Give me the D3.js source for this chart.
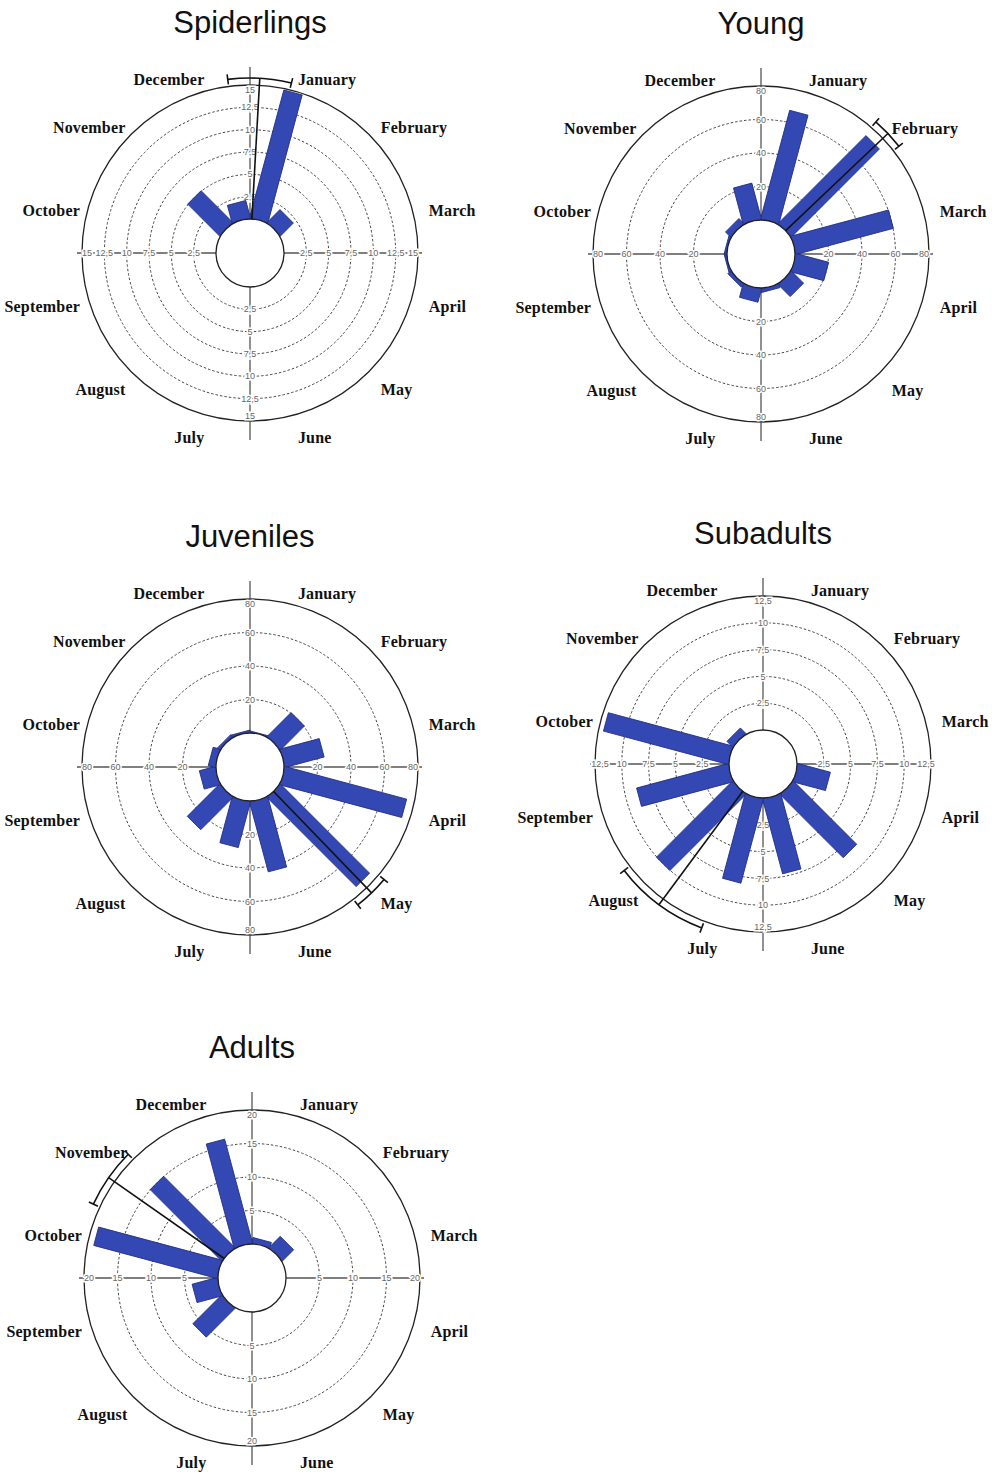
<!DOCTYPE html>
<html>
<head>
<meta charset="utf-8">
<script src="https://cdn.jsdelivr.net/npm/d3@7"></script>
<style>
  body { margin: 0; background: #fff; }
  svg { display: block; }
</style>
</head>
<body>
<svg id="chart" width="992" height="1481"></svg>
<script>
const months = [
  "January","February","March","April","May","June",
  "July","August","September","October","November","December"
];

// values per month, January..December
const spiderlings = [14.8, 2, 0, 0, 0, 0, 0, 0, 0, 0, 5, 2];
const young = [67, 74, 60, 20, 10, 2, 8, 2, 1, 1, 4, 22];
const juveniles = [0.5, 20, 24, 75, 75, 43, 28, 27, 9.5, 4, 1.5, 1];
const subadults = [0, 0, 0, 3.1, 8.3, 7.2, 8.1, 10, 8.8, 12, 0.7, 0];
const adults = [0.8, 2.3, 0, 0, 0, 0, 0, 6, 3.8, 19, 15, 16];

// radial tick labels for each panel
const spiderTicks = [2.5, 5, 7.5, 10, 12.5, 15];
const youngTicks = [20, 40, 60, 80];
const juvTicks = [20, 40, 60, 80];
const subTicks = [2.5, 5, 7.5, 10, 12.5];
const adultTicks = [5, 10, 15, 20];

// mean direction (degrees, clockwise from top) and its confidence half-width
const meanAngles = [3.2, 46.5, 136, 216.5, 305];
const meanCI = [10.5, 5.5, 6, 16, 10];

const titles = ["Spiderlings", "Young", "Juveniles", "Subadults", "Adults"];

const svg = d3.select("#chart");
svg.append("rect").attr("width", 992).attr("height", 1481).attr("fill", "#fff");

const innerR = 34;
const outerR = 168;
const fmt = v => String(v).replace(".", ",");
const rad = a => a * Math.PI / 180;

function drawRose(cx, cy, title, values, ticks, mean, ci){
  const maxV = ticks[ticks.length - 1];
  const r = d3.scaleLinear().domain([0, maxV]).range([innerR, outerR]);
  const angle = d3.scaleBand().domain(months).range([0, 360]);
  const mid = m => angle(m) + angle.bandwidth() / 2;

  const g = svg.append("g").attr("transform", `translate(${cx},${cy})`);

  // title
  g.append("text")
    .attr("x", 0)
    .attr("y", -220)
    .attr("text-anchor", "middle")
    .style("font-family", "Liberation Sans, Arial, sans-serif")
    .style("font-size", "31px")
    .style("fill", "#111")
    .text(title);

  // outer circle
  g.append("circle")
    .attr("r", outerR)
    .attr("fill", "none")
    .attr("stroke", "#222")
    .attr("stroke-width", 1.3);

  // dashed rings
  g.selectAll(".ring")
    .data(ticks.slice(0, -1))
    .enter()
    .append("circle")
    .attr("r", d => r(d))
    .attr("fill", "none")
    .attr("stroke", "#444")
    .attr("stroke-width", 1)
    .attr("stroke-dasharray", "2.5,2");

  // axes
  const axisStyle = sel => sel.attr("stroke", "#555").attr("stroke-width", 1.3);
  g.append("line").attr("x1", -outerR - 5).attr("x2", -innerR).call(axisStyle);
  g.append("line").attr("x1", innerR).attr("x2", outerR + 4).call(axisStyle);
  g.append("line").attr("y1", -186).attr("y2", -innerR).call(axisStyle);
  g.append("line").attr("y1", innerR).attr("y2", 187).call(axisStyle);

  // tick labels on four half-axes
  const dirs = [[-1, 0], [1, 0], [0, -1], [0, 1]];
  dirs.forEach(([dx, dy]) => {
    g.selectAll(null)
      .data(ticks)
      .enter()
      .append("text")
      .attr("x", d => dx * (d === maxV ? r(d) - 5 : r(d)))
      .attr("y", d => dy * (d === maxV ? r(d) - 5 : r(d)))
      .attr("dy", "0.35em")
      .attr("text-anchor", "middle")
      .style("font-family", "Liberation Sans, Arial, sans-serif")
      .style("font-size", "9px")
      .style("fill", "#666")
      .style("stroke", "#fff")
      .style("stroke-width", 3)
      .style("paint-order", "stroke")
      .text(d => fmt(d));
  });

  // bars: straight radial rectangles at each month's mid-angle
  const barW = 19;
  g.selectAll(".bar")
    .data(values.map((v, i) => ({ month: months[i], value: v })).filter(d => d.value > 0))
    .enter()
    .append("rect")
    .attr("class", "bar")
    .attr("x", -barW / 2)
    .attr("width", barW)
    .attr("y", d => -r(d.value))
    .attr("height", d => r(d.value) - innerR + 6)
    .attr("transform", d => `rotate(${mid(d.month)})`)
    .attr("fill", "#3448b4")
    .attr("stroke", "#1f2c80")
    .attr("stroke-width", 0.8);

  // inner circle on top
  g.append("circle")
    .attr("r", innerR)
    .attr("fill", "#fff")
    .attr("stroke", "#222")
    .attr("stroke-width", 1.3);

  // month labels (left-hand labels sit a little closer in horizontally)
  const labRx = m => Math.sin(rad(mid(m))) > 0 ? 185 : 176;
  const labRy = 185;
  g.selectAll(".month")
    .data(months)
    .enter()
    .append("text")
    .attr("x", d => labRx(d) * Math.sin(rad(mid(d))))
    .attr("y", d => -labRy * Math.cos(rad(mid(d))) + 11)
    .attr("text-anchor", d => Math.sin(rad(mid(d))) > 0 ? "start" : "end")
    .style("font-family", "Liberation Serif, Times New Roman, serif")
    .style("font-weight", "bold")
    .style("font-size", "16px")
    .style("letter-spacing", "0.2px")
    .style("fill", "#111")
    .text(d => d);

  // mean vector with confidence bracket
  const mR = 175;
  g.append("line")
    .attr("x1", innerR * Math.sin(rad(mean)))
    .attr("y1", -innerR * Math.cos(rad(mean)))
    .attr("x2", mR * Math.sin(rad(mean)))
    .attr("y2", -mR * Math.cos(rad(mean)))
    .attr("stroke", "#111")
    .attr("stroke-width", 1.6);

  const arc = d3.arc()
    .innerRadius(mR)
    .outerRadius(mR)
    .startAngle(rad(mean - ci))
    .endAngle(rad(mean + ci));
  g.append("path")
    .attr("d", arc())
    .attr("fill", "none")
    .attr("stroke", "#111")
    .attr("stroke-width", 1.6);

  [mean - ci, mean + ci].forEach(a => {
    g.append("line")
      .attr("x1", (mR - 5) * Math.sin(rad(a)))
      .attr("y1", -(mR - 5) * Math.cos(rad(a)))
      .attr("x2", (mR + 5) * Math.sin(rad(a)))
      .attr("y2", -(mR + 5) * Math.cos(rad(a)))
      .attr("stroke", "#111")
      .attr("stroke-width", 1.6);
  });
}

drawRose(250, 253, titles[0], spiderlings, spiderTicks, meanAngles[0], meanCI[0]);
drawRose(761, 254, titles[1], young, youngTicks, meanAngles[1], meanCI[1]);
drawRose(250, 767, titles[2], juveniles, juvTicks, meanAngles[2], meanCI[2]);
drawRose(763, 764, titles[3], subadults, subTicks, meanAngles[3], meanCI[3]);
drawRose(252, 1278, titles[4], adults, adultTicks, meanAngles[4], meanCI[4]);
</script>
</body>
</html>
